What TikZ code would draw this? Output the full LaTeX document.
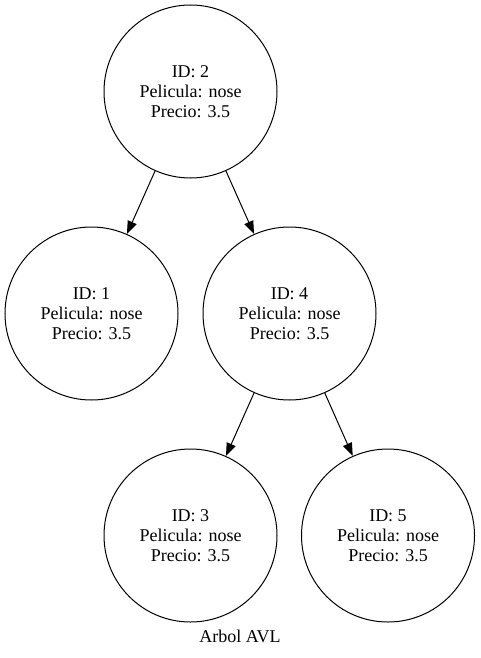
\documentclass[tikz,border=0pt]{standalone}
\usepackage{fontspec}
\setmainfont{Liberation Serif}
\usetikzlibrary{arrows.meta}
\begin{document}
\begin{tikzpicture}[x=1pt,y=-1pt,
  avl/.style={circle,draw,line width=1pt,minimum size=173pt,inner sep=0pt,align=center,font=\fontsize{18}{20}\selectfont},
  edge/.style={line width=1pt,-{Triangle[length=13pt,width=9.5pt]},shorten >=0pt},
  lbl/.style={font=\fontsize{18}{20}\selectfont}]
\useasboundingbox (0,0) rectangle (480,658);
\node[avl] (n2) at (190.5,91.5) {ID: 2\\Pelicula: nose\\Precio: 3.5};
\node[avl] (n1) at (91.5,313.5) {ID: 1\\Pelicula: nose\\Precio: 3.5};
\node[avl] (n4) at (289.5,313.5) {ID: 4\\Pelicula: nose\\Precio: 3.5};
\node[avl] (n3) at (190.5,535.5) {ID: 3\\Pelicula: nose\\Precio: 3.5};
\node[avl] (n5) at (388,535.5) {ID: 5\\Pelicula: nose\\Precio: 3.5};
\node[lbl] (title) at (240,636) {Arbol AVL};
\draw[edge] (n2) -- (n1);
\draw[edge] (n2) -- (n4);
\draw[edge] (n4) -- (n3);
\draw[edge] (n4) -- (n5);
\end{tikzpicture}
\end{document}
